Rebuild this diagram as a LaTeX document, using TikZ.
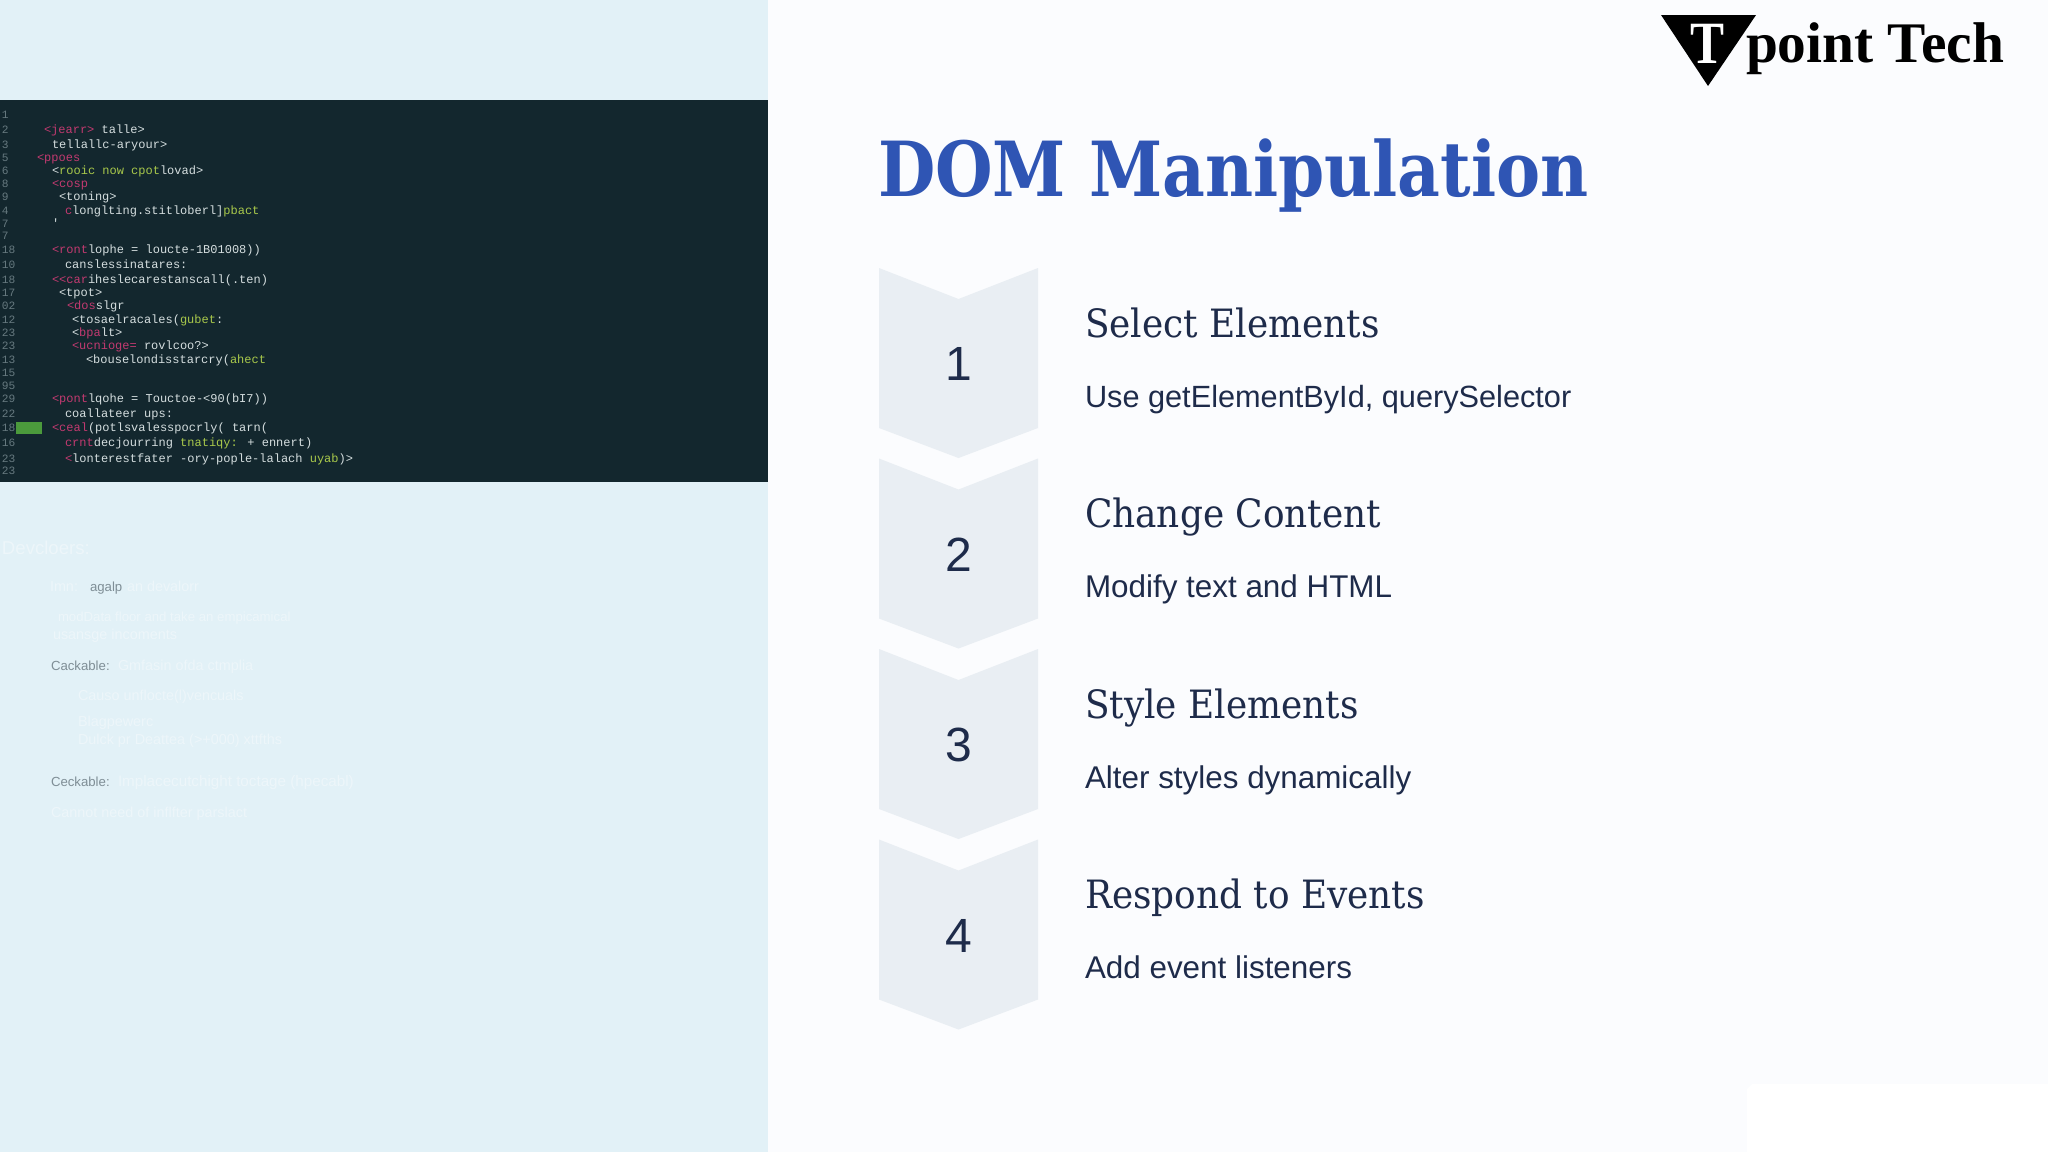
\documentclass[tikz,border=0pt]{standalone}
\usepackage{fontspec}
\setmainfont{Liberation Sans}
\newfontfamily\slabfont[FakeStretch=0.92]{DejaVu Serif}
\newfontfamily\titlefont[FakeStretch=0.87]{DejaVu Serif}
\newfontfamily\logofont{Liberation Serif}
\newfontfamily\logoTfont[FakeStretch=0.85]{Liberation Serif}
\newfontfamily\codefont{Liberation Mono}
\definecolor{pagebg}{HTML}{FBFCFE}
\definecolor{panelbg}{HTML}{E2F1F7}
\definecolor{codebg}{HTML}{13272E}
\definecolor{codefg}{HTML}{D5DEDF}
\definecolor{codenum}{HTML}{66797F}
\definecolor{codepink}{HTML}{C23A70}
\definecolor{codegreen}{HTML}{A9C94B}
\definecolor{markgreen}{HTML}{4B9A3C}
\definecolor{chevfill}{HTML}{E9EEF3}
\definecolor{inkdark}{HTML}{1E2B4A}
\definecolor{titleblue}{HTML}{2F55B4}
\definecolor{fadetext}{HTML}{EDF6FA}
\definecolor{fadegrey}{HTML}{7F8E96}
\newcommand{\pk}[1]{\textcolor{codepink}{#1}}
\newcommand{\gr}[1]{\textcolor{codegreen}{#1}}
\begin{document}
\begin{tikzpicture}[x=0.5pt,y=-0.5pt,
    every node/.style={inner sep=0pt,outer sep=0pt},
    codeline/.style={anchor=base west,text=codefg,font=\fontsize{6pt}{7pt}\codefont},
    codenumber/.style={anchor=base west,text=codenum,font=\fontsize{5.6pt}{7pt}\codefont},
    fadeline/.style={anchor=base west,text=fadetext,font=\fontsize{7.2pt}{8pt}\selectfont},
    fadegreyline/.style={anchor=base west,text=fadegrey,font=\fontsize{6.6pt}{8pt}\selectfont},
    heading/.style={anchor=base west,text=inkdark,font=\fontsize{19.5pt}{22pt}\slabfont},
    detail/.style={anchor=base west,text=inkdark,font=\fontsize{15.7pt}{18pt}\selectfont},
    stepnum/.style={text=inkdark,font=\fontsize{24pt}{28pt}\selectfont}]
  \useasboundingbox (0,0) rectangle (2048,1152);
  \fill[pagebg] (0,0) rectangle (2048,1152);
  \fill[panelbg] (0,0) rectangle (768,1152);
  \fill[codebg] (0,100) rectangle (768,482);
  \fill[white] (2048,1084) -- (1752,1084) -- (1747,1089) -- (1747,1152) -- (2048,1152) -- cycle;
  \fill[markgreen] (16,422) rectangle (42,434);
  % Code listing
  \foreach \yy/\num/\xx/\txt [count=\i] in {
      118/1/44/{},
      133/2/44/{\pk{<jearr>} talle>},
      148/3/52/{tellallc-aryour>},
      161/5/37/{\pk{<ppoes}},
      174/6/52/{<\gr{rooic now cpot}lovad>},
      187/8/52/{\pk{<cosp}},
      200/9/59/{<toning>},
      214/4/65/{\pk{c}longlting.stitloberl]\gr{pbact}},
      227/7/52/{'},
      239/7/52/{},
      253/18/52/{\pk{<ront}lophe = loucte-1B01008))},
      268/10/65/{canslessinatares:},
      283/18/52/{\pk{<<car}ihesleсarestanscall(.ten)},
      296/17/59/{<tpot>},
      309/02/67/{\pk{<dos}slgr},
      323/12/72/{<tosaelracales(\gr{gubet}:},
      336/23/72/{<\pk{bpa}lt>},
      349/23/72/{\pk{<ucnioge=} rovlcoo?>},
      363/13/86/{<bouselondisstarcry(\gr{ahect}},
      376/15/52/{},
      389/95/52/{},
      402/29/52/{\pk{<pont}lqohe = Touctoe-<90(bI7))},
      417/22/65/{coallateer ups:},
      431/18/52/{\pk{<ceal}(potlsvalesspocrly( tarn(},
      446/16/65/{\pk{crnt}decjourring \gr{tnatiqy:}   + ennert)},
      462/23/65/{\pk{<}lonterestfater -ory-pople-lalach \gr{uyab})>},
      474/23/52/{}} {
    \node[codenumber] (num\i) at (2,\yy) {\num};
    \node[codeline] (code\i) at (\xx,\yy) {\txt};
  }
  % Faded notes under the listing
  \node[fadeline,font=\fontsize{9.3pt}{10pt}\selectfont] (notes) at (2,554) {Devcloers:};
  \node[fadeline] (fade1) at (50,591) {Imn:};
  \node[fadegreyline] (fade2) at (90,591) {agalp};
  \node[fadeline] (fade3) at (127,591) {an devalorr~};
  \node[fadeline,font=\fontsize{6.6pt}{8pt}\selectfont] (fade4) at (58,621) {modData floor and take an empicamical};
  \node[fadeline] (fade5) at (53,639) {usansge incoments};
  \node[fadegreyline] (fade6) at (51,670) {Cackable:};
  \node[fadeline] (fade7) at (118,670) {Gmfasin ofda ctmplia};
  \node[fadeline] (fade8) at (78,700) {Causo unflocte(l)vencuals};
  \node[fadeline] (fade9) at (78,726) {Blagpewerc};
  \node[fadeline] (fade10) at (78,744) {Dulck pr Deattea (>+000) xttfths};
  \node[fadegreyline] (fade11) at (51,786) {Ceckable:};
  \node[fadeline,font=\fontsize{7.6pt}{8pt}\selectfont] (fade12) at (118,786) {Implacecutchight toctage (hpecabl)};
  \node[fadeline] (fade13) at (51,817) {Cannot need of inflfter parslact};
  % Logo
  \fill[black] (1661,15) -- (1756,15) -- (1708,86) -- cycle;
  \node[anchor=base,text=white,font=\fontsize{30pt}{32pt}\logoTfont\bfseries] (logoT) at (1707,63) {T};
  \node[anchor=base west,text=black,font=\fontsize{28.7pt}{30pt}\logofont\bfseries] (logotext) at (1746,62) {point Tech};
  % Title
  \node[anchor=base west,text=titleblue,font=\fontsize{38pt}{44pt}\titlefont\bfseries] (title) at (878,196) {DOM Manipulation};
  % Steps
  \foreach \n/\head/\body [count=\i from 0] in {
      1/Select Elements/{\fontsize{15.35pt}{18pt}\selectfont Use getElementById, querySelector},
      2/Change Content/{Modify text and HTML},
      3/Style Elements/{Alter styles dynamically},
      4/Respond to Events/{Add event listeners}} {
    \begin{scope}[yshift=-\i*95.25pt]
      \fill[chevfill] (879,268) -- (958.5,299) -- (1038,268) -- (1038,428) -- (958.5,458) -- (879,428) -- cycle;
      \node[stepnum] (num-\n) at (958.5,364) {\n};
      \node[heading] (head-\n) at (1085,337) {\head};
      \node[detail] (body-\n) at (1085,407) {\body};
    \end{scope}
  }
\end{tikzpicture}
\end{document}
